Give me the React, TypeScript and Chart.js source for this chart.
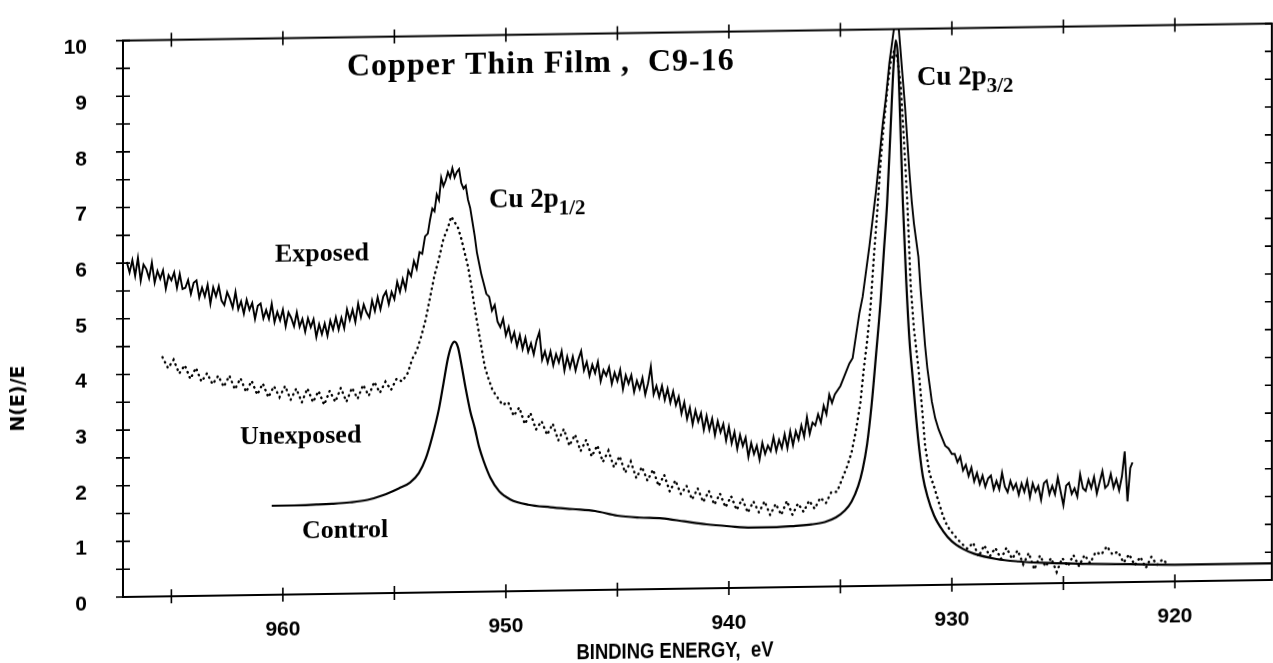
import React, { useEffect, useRef } from 'react';
import { Chart, registerables } from 'chart.js';

Chart.register(...registerables);

const INK = '#000';

// axis definitions (binding energy, eV, reversed axis)
const energyMax = 967.17;
const energyMin = 915.65;
const xTickLabels = [960, 950, 940, 930, 920];
const xTickMarks = [965, 960, 955, 950, 945, 940, 935, 930, 925, 920];
const yTickMarks = [0, 0.5, 1, 1.5, 2, 2.5, 3, 3.5, 4, 4.5, 5, 5.5, 6, 6.5, 7, 7.5, 8, 8.5, 9, 9.5, 10];

const titleText = 'Copper Thin Film ,  C9-16';
const xTitle = 'BINDING ENERGY,  eV';
const yTitle = 'N(E)/E';

// [binding energy (eV), N(E)/E]
const exposed: number[][] = [
  [967.0, 6.02], [966.875, 5.83], [966.75, 6.05], [966.625, 5.77], [966.5, 6.09], [966.375, 5.68], [966.25, 5.97], [966.125, 5.89],
  [966.0, 5.72], [965.875, 6.0], [965.75, 5.64], [965.625, 5.85], [965.5, 5.71], [965.375, 5.86], [965.25, 5.53], [965.125, 5.77],
  [965.0, 5.68], [964.875, 5.82], [964.75, 5.54], [964.625, 5.79], [964.5, 5.52], [964.375, 5.54], [964.25, 5.68], [964.125, 5.43],
  [964.0, 5.63], [963.875, 5.67], [963.75, 5.36], [963.625, 5.54], [963.5, 5.38], [963.375, 5.59], [963.25, 5.25], [963.125, 5.54],
  [963.0, 5.38], [962.875, 5.56], [962.75, 5.3], [962.625, 5.22], [962.5, 5.45], [962.375, 5.33], [962.25, 5.17], [962.125, 5.45],
  [962.0, 5.14], [961.875, 5.28], [961.75, 5.06], [961.625, 5.31], [961.5, 5.13], [961.375, 5.25], [961.25, 4.96], [961.125, 5.2],
  [961.0, 5.24], [960.875, 4.97], [960.75, 5.12], [960.625, 4.96], [960.5, 5.23], [960.375, 4.9], [960.25, 5.08], [960.125, 4.93],
  [960.0, 5.12], [959.875, 4.82], [959.75, 5.07], [959.625, 4.97], [959.5, 4.82], [959.375, 5.07], [959.25, 4.81], [959.125, 4.95],
  [959.0, 4.72], [958.875, 4.96], [958.75, 4.8], [958.625, 4.94], [958.5, 4.62], [958.375, 4.85], [958.25, 4.67], [958.125, 4.86],
  [958.0, 4.64], [957.875, 4.91], [957.75, 4.75], [957.625, 4.97], [957.5, 4.75], [957.375, 4.96], [957.25, 4.77], [957.125, 5.11],
  [957.0, 4.92], [956.875, 5.1], [956.75, 4.88], [956.625, 5.21], [956.5, 4.97], [956.375, 5.19], [956.25, 5.05], [956.125, 4.96],
  [956.0, 5.26], [955.875, 5.07], [955.75, 5.32], [955.625, 5.1], [955.5, 5.33], [955.375, 5.42], [955.25, 5.19], [955.125, 5.41],
  [955.0, 5.28], [954.875, 5.59], [954.75, 5.41], [954.625, 5.64], [954.5, 5.46], [954.375, 5.79], [954.25, 5.69], [954.125, 5.96],
  [954.0, 5.82], [953.875, 6.12], [953.75, 6.09], [953.625, 6.4], [953.5, 6.45],
  [953.4, 6.7], [953.3, 6.9], [953.2, 6.85], [953.1, 7.15], [953.0, 7.05], [952.9, 7.45], [952.8, 7.3], [952.7, 7.4],
  [952.6, 7.55], [952.5, 7.45], [952.4, 7.62], [952.3, 7.45], [952.2, 7.55], [952.1, 7.6], [952.0, 7.35], [951.9, 7.25],
  [951.8, 7.3], [951.7, 7.05], [951.6, 6.9], [951.5, 6.65], [951.4, 6.4], [951.3, 6.1], [951.2, 5.9], [951.1, 5.7],
  [951.0, 5.55], [950.875, 5.35], [950.75, 5.3], [950.625, 5.05], [950.5, 5.15], [950.375, 4.85], [950.25, 4.75], [950.125, 4.9],
  [950.0, 4.6], [949.875, 4.75], [949.75, 4.5], [949.625, 4.65], [949.5, 4.4], [949.375, 4.6], [949.25, 4.35], [949.125, 4.55],
  [949.0, 4.3], [948.875, 4.45], [948.75, 4.25], [948.625, 4.5], [948.5, 4.65], [948.375, 4.15], [948.25, 4.3], [948.125, 4.1],
  [948.0, 4.3], [947.875, 4.05], [947.75, 4.25], [947.625, 4.1], [947.5, 4.3], [947.375, 3.95], [947.25, 4.2], [947.125, 4.0],
  [947.0, 4.2], [946.875, 3.95], [946.75, 4.15], [946.625, 4.3], [946.5, 3.95], [946.375, 4.1], [946.25, 3.85], [946.125, 4.05],
  [946.0, 3.9], [945.875, 4.1], [945.75, 3.75], [945.625, 3.95], [945.5, 3.85], [945.375, 4.0], [945.25, 3.7], [945.125, 3.9],
  [945.0, 3.75], [944.875, 3.95], [944.75, 3.6], [944.625, 3.85], [944.5, 3.7], [944.375, 3.85], [944.25, 3.55], [944.125, 3.75],
  [944.0, 3.6], [943.875, 3.8], [943.75, 3.5], [943.625, 3.7], [943.5, 4.0], [943.375, 3.5], [943.25, 3.65], [943.125, 3.45],
  [943.0, 3.65], [942.875, 3.4], [942.75, 3.6], [942.625, 3.35], [942.5, 3.55], [942.375, 3.3], [942.25, 3.45], [942.125, 3.15],
  [942.0, 3.35], [941.875, 3.05], [941.75, 3.25], [941.625, 2.95], [941.5, 3.2], [941.375, 3.0], [941.25, 3.15], [941.125, 2.85],
  [941.0, 3.1], [940.875, 2.85], [940.75, 3.05], [940.625, 2.75], [940.5, 3.0], [940.375, 2.8], [940.25, 2.95], [940.125, 2.65],
  [940.0, 2.9], [939.875, 2.6], [939.75, 2.8], [939.625, 2.5], [939.5, 2.75], [939.375, 2.55], [939.25, 2.7], [939.125, 2.35],
  [939.0, 2.6], [938.875, 2.4], [938.75, 2.55], [938.625, 2.3], [938.5, 2.6], [938.375, 2.4], [938.25, 2.55], [938.125, 2.45],
  [938.0, 2.7], [937.875, 2.45], [937.75, 2.65], [937.625, 2.5], [937.5, 2.75], [937.375, 2.5], [937.25, 2.8], [937.125, 2.55],
  [937.0, 2.8], [936.875, 2.65], [936.75, 2.9], [936.625, 2.7], [936.5, 3.05], [936.375, 2.75], [936.25, 2.95], [936.125, 2.9],
  [936.0, 3.1], [935.875, 2.95], [935.75, 3.25], [935.625, 3.1], [935.5, 3.45], [935.375, 3.3], [935.25, 3.45],
  [935.0, 3.6], [934.8, 3.8], [934.6, 4.0], [934.45, 4.1], [934.3, 4.5], [934.15, 4.9], [934.0, 5.2], [933.85, 5.65],
  [933.7, 6.1], [933.55, 6.6], [933.4, 7.1], [933.25, 7.7], [933.1, 8.3], [932.95, 8.8], [932.8, 9.4], [932.7, 9.7],
  [932.6, 10.0], [932.5, 10.2], [932.4, 10.1], [932.3, 9.6], [932.2, 9.1], [932.1, 8.6], [932.0, 8.0], [931.9, 7.4],
  [931.8, 6.9], [931.7, 6.5], [931.6, 6.2], [931.5, 5.9], [931.4, 5.3], [931.3, 4.8], [931.2, 4.3], [931.1, 3.9],
  [931.0, 3.6], [930.9, 3.3], [930.75, 3.0], [930.6, 2.8], [930.45, 2.65], [930.3, 2.5], [930.15, 2.45], [930.0, 2.35],
  [929.875, 2.35], [929.75, 2.2], [929.625, 2.3], [929.5, 2.05], [929.375, 2.15], [929.25, 1.95], [929.125, 2.1], [929.0, 1.85],
  [928.875, 2.0], [928.75, 1.8], [928.625, 1.95], [928.5, 1.75], [928.375, 1.9], [928.25, 1.95], [928.125, 1.7], [928.0, 1.85],
  [927.875, 1.7], [927.75, 2.0], [927.625, 1.75], [927.5, 1.65], [927.375, 1.85], [927.25, 1.7], [927.125, 1.8], [927.0, 1.6],
  [926.875, 1.8], [926.75, 1.65], [926.625, 1.85], [926.5, 1.55], [926.375, 1.8], [926.25, 1.65], [926.125, 1.75], [926.0, 1.5],
  [925.875, 1.8], [925.75, 1.85], [925.625, 1.6], [925.5, 1.75], [925.375, 1.6], [925.25, 1.9], [925.125, 1.65], [925.0, 1.4],
  [924.875, 1.75], [924.75, 1.8], [924.625, 1.6], [924.5, 1.7], [924.375, 1.55], [924.25, 1.95], [924.125, 1.7], [924.0, 1.65],
  [923.875, 1.85], [923.75, 1.7], [923.625, 1.9], [923.5, 1.6], [923.375, 1.8], [923.25, 2.0], [923.125, 1.7], [923.0, 1.75],
  [922.875, 1.95], [922.75, 1.7], [922.625, 1.85], [922.5, 1.65], [922.375, 1.9], [922.25, 2.35], [922.125, 1.45], [922.0, 2.05],
  [921.9, 2.15],
];

const unexposed: number[][] = [
  [965.4, 4.3], [965.15, 4.1], [964.9, 4.25], [964.65, 4.0], [964.4, 4.15], [964.15, 3.9], [963.9, 4.1], [963.65, 3.85],
  [963.4, 4.0], [963.15, 3.8], [962.9, 3.95], [962.65, 3.75], [962.4, 3.95], [962.15, 3.7], [961.9, 3.9], [961.65, 3.65],
  [961.4, 3.85], [961.15, 3.6], [960.9, 3.8], [960.65, 3.55], [960.4, 3.75], [960.15, 3.55], [959.9, 3.75], [959.65, 3.5],
  [959.4, 3.7], [959.15, 3.45], [958.9, 3.7], [958.65, 3.45], [958.4, 3.65], [958.15, 3.4], [957.9, 3.65], [957.65, 3.45],
  [957.4, 3.7], [957.15, 3.45], [956.9, 3.7], [956.65, 3.5], [956.4, 3.75], [956.15, 3.55], [955.9, 3.8], [955.65, 3.6],
  [955.4, 3.8], [955.15, 3.65], [954.9, 3.85], [954.65, 3.8], [954.4, 3.95], [954.2, 4.2], [954.0, 4.35], [953.8, 4.6],
  [953.6, 4.9], [953.4, 5.3], [953.2, 5.7], [953.0, 6.0], [952.8, 6.35], [952.6, 6.55], [952.45, 6.75], [952.3, 6.65],
  [952.15, 6.55], [952.0, 6.35], [951.85, 6.1], [951.7, 5.85], [951.55, 5.5], [951.4, 5.1], [951.25, 4.75], [951.1, 4.4],
  [950.95, 4.05], [950.8, 3.85], [950.6, 3.62], [950.4, 3.5], [950.15, 3.35], [949.9, 3.4], [949.65, 3.15], [949.4, 3.3],
  [949.15, 3.0], [948.9, 3.2], [948.65, 2.9], [948.4, 3.05], [948.15, 2.8], [947.9, 3.0], [947.65, 2.7], [947.4, 2.9],
  [947.15, 2.6], [946.9, 2.8], [946.65, 2.5], [946.4, 2.7], [946.15, 2.4], [945.9, 2.6], [945.65, 2.3], [945.4, 2.5],
  [945.15, 2.2], [944.9, 2.4], [944.65, 2.1], [944.4, 2.3], [944.15, 2.0], [943.9, 2.2], [943.65, 1.95], [943.4, 2.15],
  [943.15, 1.85], [942.9, 2.05], [942.65, 1.75], [942.4, 1.95], [942.15, 1.7], [941.9, 1.85], [941.65, 1.6], [941.4, 1.8],
  [941.15, 1.55], [940.9, 1.75], [940.65, 1.5], [940.4, 1.7], [940.15, 1.45], [939.9, 1.65], [939.65, 1.4], [939.4, 1.6],
  [939.15, 1.35], [938.9, 1.55], [938.65, 1.35], [938.4, 1.55], [938.15, 1.3], [937.9, 1.5], [937.65, 1.3], [937.4, 1.55],
  [937.15, 1.3], [936.9, 1.5], [936.65, 1.35], [936.4, 1.55], [936.15, 1.4], [935.9, 1.6], [935.65, 1.5], [935.4, 1.7],
  [935.15, 1.7], [934.9, 1.95], [934.7, 2.15], [934.5, 2.4], [934.3, 2.8], [934.1, 3.3], [933.95, 3.9], [933.8, 4.4],
  [933.65, 5.0], [933.5, 5.9], [933.35, 6.7], [933.2, 7.6], [933.05, 8.3], [932.9, 8.9], [932.75, 9.4], [932.6, 9.6],
  [932.45, 9.5], [932.3, 9.0], [932.15, 8.0], [932.0, 6.9], [931.85, 5.4], [931.7, 4.6], [931.5, 3.9], [931.3, 3.0],
  [931.2, 2.5], [931.0, 2.0], [930.8, 1.77], [930.6, 1.5], [930.4, 1.24], [930.2, 1.05], [929.9, 0.89], [929.6, 0.75],
  [929.3, 0.64], [929.05, 0.75], [928.8, 0.5], [928.55, 0.7], [928.3, 0.5], [928.05, 0.65], [927.8, 0.45], [927.55, 0.65],
  [927.3, 0.45], [927.05, 0.6], [926.8, 0.35], [926.55, 0.55], [926.3, 0.25], [926.05, 0.5], [925.8, 0.3], [925.55, 0.45],
  [925.3, 0.2], [925.05, 0.45], [924.8, 0.3], [924.55, 0.5], [924.3, 0.3], [924.05, 0.5], [923.8, 0.35], [923.55, 0.55],
  [923.3, 0.5], [923.05, 0.65], [922.8, 0.5], [922.55, 0.55], [922.3, 0.35], [922.05, 0.5], [921.8, 0.3], [921.55, 0.45],
  [921.3, 0.25], [921.05, 0.45], [920.8, 0.3], [920.55, 0.4], [920.3, 0.3],
];

const control: number[][] = [
  [960.5, 1.6], [959.5, 1.6], [958.5, 1.61], [957.8, 1.62], [957.0, 1.64], [956.2, 1.68], [955.5, 1.76], [954.8, 1.88],
  [954.3, 1.98], [953.9, 2.15], [953.6, 2.4], [953.3, 2.8], [953.0, 3.3], [952.8, 3.75], [952.6, 4.2], [952.45, 4.42],
  [952.3, 4.5], [952.15, 4.4], [952.0, 4.1], [951.8, 3.65], [951.6, 3.25], [951.4, 2.95], [951.2, 2.6], [951.0, 2.35],
  [950.7, 2.05], [950.3, 1.8], [949.8, 1.65], [949.0, 1.55], [948.0, 1.5], [947.0, 1.46], [946.0, 1.42], [945.0, 1.33],
  [944.0, 1.29], [943.0, 1.27], [942.0, 1.21], [941.0, 1.15], [940.0, 1.11], [939.0, 1.08], [938.0, 1.08], [937.0, 1.1],
  [936.3, 1.12], [935.7, 1.16], [935.2, 1.24], [934.8, 1.36], [934.5, 1.52], [934.2, 1.8], [934.0, 2.1], [933.8, 2.55],
  [933.6, 3.25], [933.4, 4.15], [933.2, 5.1], [933.05, 6.0], [932.9, 6.9], [932.75, 8.2], [932.62, 9.3], [932.52, 9.8],
  [932.42, 9.5], [932.32, 8.4], [932.2, 6.9], [932.05, 5.5], [931.9, 4.4], [931.75, 3.7], [931.6, 3.0], [931.45, 2.4],
  [931.3, 1.95], [931.1, 1.6], [930.8, 1.25], [930.4, 0.97], [930.0, 0.78], [929.5, 0.64], [929.0, 0.55], [928.0, 0.45],
  [927.0, 0.4], [926.0, 0.37], [924.0, 0.34], [922.0, 0.32], [920.0, 0.3], [918.0, 0.3], [915.65, 0.3],
];

const SANS = "'Liberation Sans', Arial, sans-serif";
const SERIF = "'Liberation Serif', 'DejaVu Serif', serif";

const decor = {
  id: 'decor',
  afterDraw(chart: any) {
    const { ctx, chartArea, scales } = chart;
    const { left, right, top, bottom } = chartArea;
    const xs = scales.x;
    const ys = scales.y;
    ctx.save();
    ctx.strokeStyle = INK;
    ctx.fillStyle = INK;
    ctx.lineWidth = 2;
    ctx.strokeRect(left, top, right - left, bottom - top);
    ctx.lineWidth = 1.6;
    ctx.beginPath();
    xTickMarks.forEach((v) => {
      const px = xs.getPixelForValue(v);
      ctx.moveTo(px, bottom - 7);
      ctx.lineTo(px, bottom + 7);
      ctx.moveTo(px, top - 7);
      ctx.lineTo(px, top + 7);
    });
    yTickMarks.forEach((v) => {
      const py = ys.getPixelForValue(v);
      ctx.moveTo(left - 7, py);
      ctx.lineTo(left + 7, py);
      ctx.moveTo(right - 7, py);
      ctx.lineTo(right, py);
    });
    ctx.stroke();

    ctx.textAlign = 'left';
    ctx.textBaseline = 'alphabetic';
    ctx.font = `bold 32px ${SERIF}`;
    try { (ctx as any).letterSpacing = '1px'; } catch (e) { /* ignore */ }
    ctx.fillText(titleText, 347, 79);
    try { (ctx as any).letterSpacing = '0px'; } catch (e) { /* ignore */ }

    ctx.font = `bold 26px ${SERIF}`;
    ctx.fillText('Exposed', 275, 264);
    ctx.fillText('Unexposed', 240, 446);
    ctx.fillText('Control', 302, 541);

    const peakLabel = (sub: string, x0: number, y0: number) => {
      ctx.font = `bold 27px ${SERIF}`;
      ctx.fillText('Cu 2p', x0, y0);
      const w = ctx.measureText('Cu 2p').width;
      ctx.font = `bold 21px ${SERIF}`;
      ctx.fillText(sub, x0 + w, y0 + 8);
    };
    peakLabel('1/2', 489, 213);
    peakLabel('3/2', 917, 97);

    ctx.save();
    ctx.translate(675, 660);
    ctx.scale(0.84, 1);
    ctx.font = `bold 22px ${SANS}`;
    ctx.textAlign = 'center';
    ctx.textBaseline = 'middle';
    ctx.fillText(xTitle, 0, 0);
    ctx.restore();

    ctx.save();
    ctx.translate(19, 397);
    ctx.rotate(-Math.PI / 2);
    ctx.font = "bold 19px 'DejaVu Sans', sans-serif";
    ctx.textAlign = 'center';
    ctx.textBaseline = 'middle';
    ctx.fillText(yTitle, 0, 0);
    ctx.restore();

    ctx.restore();
  },
};

export default function App() {
  const ref = useRef<HTMLCanvasElement>(null);
  useEffect(() => {
    const canvas = ref.current;
    if (!canvas) return;
    const toXY = (a: number[][]) => a.map(([x, y]) => ({ x, y }));
    const tickFont = { family: SANS, size: 21, weight: 'bold' as const };
    const chart = new Chart(canvas, {
      type: 'scatter',
      data: {
        datasets: [
          {
            label: 'Exposed',
            data: toXY(exposed),
            showLine: true,
            borderColor: INK,
            borderWidth: 1.9,
            pointRadius: 0,
            tension: 0,
          },
          {
            label: 'Unexposed',
            data: toXY(unexposed),
            showLine: true,
            borderColor: INK,
            borderWidth: 2.4,
            borderDash: [0.5, 5],
            borderCapStyle: 'round',
            pointRadius: 0,
            tension: 0,
          },
          {
            label: 'Control',
            data: toXY(control),
            showLine: true,
            borderColor: INK,
            borderWidth: 2.2,
            pointRadius: 0,
            cubicInterpolationMode: 'monotone',
          },
        ],
      },
      options: {
        animation: false,
        responsive: false,
        devicePixelRatio: 1,
        layout: { padding: { top: 33, right: 1, left: 0, bottom: 0 } },
        plugins: { legend: { display: false }, tooltip: { enabled: false } },
        scales: {
          x: {
            type: 'linear',
            reverse: true,
            min: energyMin,
            max: energyMax,
            afterBuildTicks: (s: any) => {
              s.ticks = xTickLabels.map((v) => ({ value: v }));
            },
            afterFit: (s: any) => {
              s.height = 103;
            },
            grid: { display: false },
            border: { display: false },
            ticks: {
              color: INK,
              font: tickFont,
              padding: 15,
              maxRotation: 0,
              autoSkip: false,
              callback: (v: any) => String(v),
            },
          },
          y: {
            min: 0,
            max: 10,
            afterFit: (s: any) => {
              s.width = 123;
            },
            grid: { display: false },
            border: { display: false },
            ticks: { stepSize: 1, color: INK, font: tickFont, padding: 28, labelOffset: 7 },
          },
        },
      },
      plugins: [decor],
    } as any);
    return () => chart.destroy();
  }, []);
  return (
    <div
      style={{
        position: 'fixed',
        left: 0,
        top: 0,
        width: 1273,
        height: 700,
        transform: 'skewY(-0.85deg)',
        transformOrigin: '123px 597px',
        background: '#fff',
      }}
    >
      <canvas ref={ref} width={1273} height={700} style={{ display: 'block' }} />
    </div>
  );
}
